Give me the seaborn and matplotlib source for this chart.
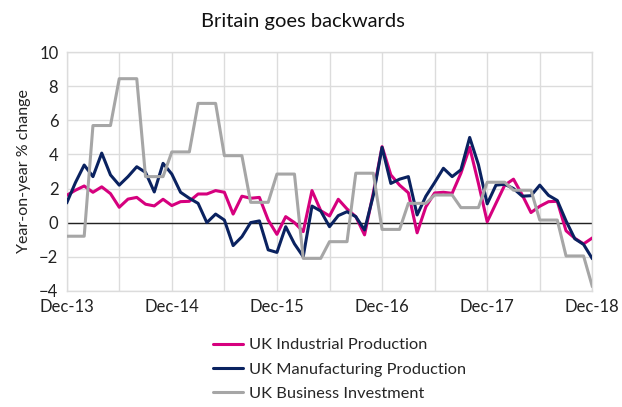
import numpy as np
import pandas as pd
import matplotlib
matplotlib.use("Agg")
import matplotlib.pyplot as plt
import seaborn as sns

# ---- data (monthly, Dec-13 .. Dec-18) ----
industrial = [1.6, 1.9, 2.15, 1.78, 2.1, 1.7, 0.9, 1.38, 1.48, 1.08, 0.98, 1.37,
              1.0, 1.23, 1.25, 1.68, 1.68, 1.88, 1.78, 0.5, 1.55, 1.43, 1.48, 0.15,
              -0.69, 0.35, 0.0, -0.53, 1.88, 0.7, 0.39, 1.37, 0.8, 0.35, -0.72, 1.75,
              4.46, 2.8, 2.2, 1.75, -0.6, 0.93, 1.74, 1.78, 1.72, 2.9, 4.42, 2.3,
              0.05, 1.13, 2.2, 2.55, 1.62, 0.59, 0.96, 1.23, 1.25, -0.48, -0.92, -1.25,
              -0.9]
manufacturing = [1.15, 2.35, 3.38, 2.7, 4.08, 2.8, 2.2, 2.7, 3.28, 2.95, 1.8, 3.48,
                 2.85, 1.78, 1.43, 1.13, 0.0, 0.5, 0.15, -1.35, -0.83, 0.0, 0.1, -1.6,
                 -1.75, -0.24, -1.25, -2.0, 0.97, 0.68, -0.24, 0.41, 0.64, 0.35, -0.43, 1.6,
                 4.42, 2.3, 2.55, 2.7, 0.45, 1.55, 2.35, 3.19, 2.7, 3.1, 5.0, 3.4,
                 1.1, 2.2, 2.25, 2.0, 1.55, 1.58, 2.2, 1.6, 1.3, 0.1, -0.95, -1.28,
                 -2.12]
business_inv = [-0.8, -0.8, -0.8, 5.7, 5.7, 5.7, 8.45, 8.45, 8.45, 2.7, 2.7, 2.7,
                4.15, 4.15, 4.15, 7.0, 7.0, 7.0, 3.93, 3.93, 3.93, 1.19, 1.19, 1.19,
                2.85, 2.85, 2.85, -2.1, -2.1, -2.1, -1.12, -1.12, -1.12, 2.9, 2.9, 2.9,
                -0.4, -0.4, -0.4, 1.13, 1.13, 1.13, 1.62, 1.62, 1.62, 0.88, 0.88, 0.88,
                2.37, 2.37, 2.37, 1.9, 1.9, 1.9, 0.15, 0.15, 0.15, -1.96, -1.96, -1.96,
                -3.76]
series_names = ["UK Industrial Production", "UK Manufacturing Production",
                "UK Business Investment"]
tick_labels = ["Dec-13", "Dec-14", "Dec-15", "Dec-16", "Dec-17", "Dec-18"]
colors = ["#d6007e", "#0a2260", "#a6a6a6"]

month_idx = np.arange(len(industrial))
df = pd.concat([
    pd.DataFrame({"month": month_idx, "value": vals, "series": name})
    for name, vals in zip(series_names, [industrial, manufacturing, business_inv])
])

sns.set_theme(style="white")
plt.rcParams["font.family"] = ["Lato", "DejaVu Sans"]

fig = plt.figure(figsize=(6.22, 4.07), dpi=100)
ax = fig.add_axes([0.1072, 0.2857, 0.8451, 0.5858])

sns.lineplot(data=df, x="month", y="value", hue="series", hue_order=series_names,
             palette=colors, linewidth=2.2, ax=ax, legend=True, zorder=3)

grid_c = "#dcdcdc"
ax.set_xlim(0, 60)
ax.set_ylim(-4, 10)
ax.set_yticks(np.arange(-4, 11, 2))
ax.set_xticks(np.arange(0, 61, 6))
ax.set_xticklabels([tick_labels[i // 12] if i % 12 == 0 else "" for i in range(0, 61, 6)])
ax.grid(True, color=grid_c, linewidth=1.0, zorder=0)
ax.axhline(0, color="#222222", linewidth=1.0, zorder=2)
for s in ax.spines.values():
    s.set_color(grid_c)
    s.set_linewidth(1.0)
ax.tick_params(axis="both", length=0, labelsize=12, colors="#222222", pad=6)
ax.set_xlabel("")
ax.set_ylabel("Year-on-year % change", fontsize=11.5, color="#222222", labelpad=6)

fig.suptitle("Britain goes backwards", fontsize=14.5, x=0.487, y=0.968, color="#111111")

handles, labels = ax.get_legend_handles_labels()
ax.legend_.remove()
fig.legend(handles, labels, loc="upper left", bbox_to_anchor=(0.332, 0.186),
           frameon=False, fontsize=11.8, handlelength=1.8, handletextpad=0.4,
           labelspacing=0.6, borderaxespad=0)

fig.savefig("out.png", dpi=100)
